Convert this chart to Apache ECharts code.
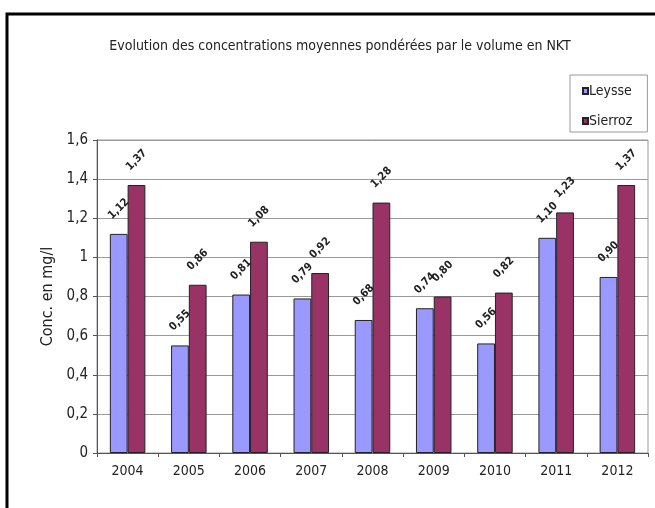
<!DOCTYPE html>
<html>
<head>
<meta charset="utf-8">
<script src="https://cdn.jsdelivr.net/npm/echarts@6/dist/echarts.min.js"></script>
<style>
html,body{margin:0;padding:0;background:#fff;}
#chart{width:655px;height:508px;}
</style>
</head>
<body>
<div id="chart"></div>
<script>
const titleText = "Evolution des concentrations moyennes pondérées par le volume en NKT";
const categories = ["2004","2005","2006","2007","2008","2009","2010","2011","2012"];
const leysse = [1.12,0.55,0.81,0.79,0.68,0.74,0.56,1.10,0.90];
const sierroz = [1.37,0.86,1.08,0.92,1.28,0.80,0.82,1.23,1.37];
const seriesNames = ["Leysse","Sierroz"];
const yAxisName = "Conc. en mg/l";

const FONT = "'Liberation Sans Narrow', 'Arial Narrow', 'DejaVu Sans Condensed', 'Liberation Sans'";
const fmt = v => v.toFixed(2).replace('.', ',');
const labelCfg = {
  show: true,
  position: 'top',
  distance: 25,
  rotate: 45,
  align: 'center',
  verticalAlign: 'middle',
  fontFamily: FONT,
  fontSize: 11,
  fontWeight: 'bold',
  color: '#222',
  formatter: p => fmt(p.value)
};

const chart = echarts.init(document.getElementById('chart'), null, {renderer:'canvas'});
chart.setOption({
  animation: false,
  backgroundColor: '#fff',
  textStyle: {fontFamily: FONT},
  title: {
    text: titleText,
    left: 335, top: 34, textAlign: 'center',
    textStyle: {fontFamily: FONT, fontSize: 14, fontWeight: 'normal', color: '#222'}
  },
  legend: {
    orient: 'vertical',
    left: 570, top: 75,
    padding: [9, 15, 4, 12],
    itemGap: 16,
    itemWidth: 5, itemHeight: 6,
    borderColor: '#999', borderWidth: 1,
    backgroundColor: '#fff',
    icon: 'rect',
    textStyle: {fontFamily: FONT, fontSize: 14, color: '#222', padding: [0,0,0,-4]},
    data: seriesNames
  },
  grid: {left: 97, right: 7, top: 140, bottom: 55, show: true, borderColor: '#999', borderWidth: 1},
  xAxis: {
    type: 'category',
    data: categories,
    axisLine: {lineStyle: {color: '#555'}},
    axisTick: {show: true, length: 4, lineStyle: {color: '#555'}},
    axisLabel: {fontFamily: FONT, fontSize: 14, color: '#222', margin: 11}
  },
  yAxis: {
    type: 'value',
    min: 0, max: 1.6, interval: 0.2,
    name: yAxisName,
    nameLocation: 'middle',
    nameGap: 41,
    nameTextStyle: {fontFamily: FONT, fontSize: 16, color: '#222'},
    axisLine: {show: true, lineStyle: {color: '#555'}},
    axisTick: {show: true, length: 4, lineStyle: {color: '#555'}},
    axisLabel: {fontFamily: FONT, fontSize: 15, color: '#222', margin: 9,
      formatter: v => v === 0 ? '0' : (v === 1 ? '1' : String(Math.round(v*10)/10).replace('.', ','))},
    splitLine: {lineStyle: {color: '#999', width: 1}}
  },
  series: [
    {
      name: seriesNames[0], type: 'bar', data: leysse,
      barGap: '0%', barCategoryGap: '42%',
      itemStyle: {color: '#9999FF', borderColor: '#222', borderWidth: 1},
      label: labelCfg
    },
    {
      name: seriesNames[1], type: 'bar', data: sierroz,
      itemStyle: {color: '#993366', borderColor: '#222', borderWidth: 1},
      label: labelCfg
    }
  ],
  graphic: [
    {type: 'rect', shape: {x: 7, y: 14, width: 700, height: 600},
     style: {fill: 'none', stroke: '#000', lineWidth: 3}, silent: true, z: 100}
  ]
});
</script>
</body>
</html>
